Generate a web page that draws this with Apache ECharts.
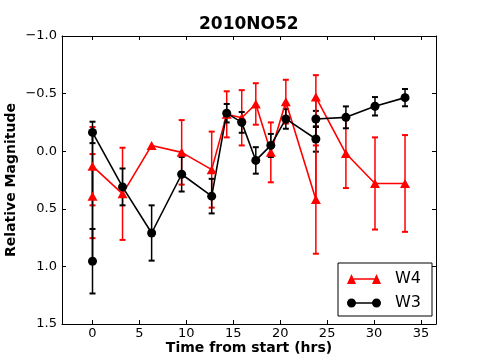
<!DOCTYPE html>
<html>
<head>
<meta charset="utf-8">
<script src="https://cdn.jsdelivr.net/npm/echarts@6/dist/echarts.min.js"></script>
<style>
  html, body { margin: 0; padding: 0; background: #fff; }
  #chart { width: 485px; height: 360px; }
</style>
</head>
<body>
<div id="chart"></div>
<script>
  // time from start (hrs)
  var w4X = [0, 0, 3.2, 6.3, 9.5, 12.7, 14.3, 15.9, 17.4, 19.0, 20.6, 23.8, 23.8, 27.0, 30.1, 33.3]
  var w4Y = [0.39, 0.13, 0.37, -0.05, 0.01, 0.16, -0.32, -0.29, -0.41, 0.01, -0.43, 0.42, -0.47, 0.02, 0.28, 0.28]
  var w4Err = [0.365, 0.34, 0.40, 0, 0.28, 0.33, 0.20, 0.24, 0.18, 0.26, 0.19, 0.47, 0.19, 0.30, 0.40, 0.42]

  var w3X = [0, 0, 3.2, 6.3, 9.5, 12.7, 14.3, 15.9, 17.4, 19.0, 20.6, 23.8, 23.8, 27.0, 30.1, 33.3]
  var w3Y = [0.955, -0.163, 0.31, 0.71, 0.20, 0.39, -0.33, -0.25, 0.08, -0.05, -0.28, -0.106, -0.28, -0.294, -0.39, -0.465]
  var w3Err = [0.28, 0.093, 0.16, 0.24, 0.15, 0.15, 0.08, 0.09, 0.115, 0.10, 0.085, 0.11, 0.07, 0.095, 0.08, 0.075]

  var xTicks = [0, 5, 10, 15, 20, 25, 30, 35]

  var FONT = 'DejaVu Sans'

  function pairs(xs, ys, es) {
    return xs.map(function (x, i) {
      return es ? [x, ys[i], es[i]] : [x, ys[i]]
    })
  }

  function errRender(color) {
    return function (params, api) {
      var x = api.value(0)
      var y = api.value(1)
      var e = api.value(2)
      if (!e) return { type: 'group', children: [] }
      var top = api.coord([x, y - e])
      var bot = api.coord([x, y + e])
      var cap = 3
      var st = { stroke: color, lineWidth: 1.5 }
      var capSt = { stroke: color, lineWidth: 2 }
      return {
        type: 'group',
        children: [
          { type: 'line', shape: { x1: top[0], y1: top[1], x2: bot[0], y2: bot[1] }, style: st },
          { type: 'line', shape: { x1: top[0] - cap, y1: top[1], x2: top[0] + cap, y2: top[1] }, style: capSt },
          { type: 'line', shape: { x1: bot[0] - cap, y1: bot[1], x2: bot[0] + cap, y2: bot[1] }, style: capSt }
        ]
      }
    }
  }

  // legend icons: two markers joined by a line
  var triIcon = 'path://M0,10 L4.5,0 L9,10 Z M25,10 L29.5,0 L34,10 Z M6.5,4.25 L27.5,4.25 L27.5,5.75 L6.5,5.75 Z'
  var dotIcon = 'path://M0,5 A4.5,4.5 0 1,1 9,5 A4.5,4.5 0 1,1 0,5 Z M25,5 A4.5,4.5 0 1,1 34,5 A4.5,4.5 0 1,1 25,5 Z M8.8,4.25 L25.2,4.25 L25.2,5.75 L8.8,5.75 Z'

  var axisLine = { show: true, onZero: false, lineStyle: { color: '#000', width: 1 } }
  var tickStyle = { show: true, inside: true, length: 4, lineStyle: { color: '#000', width: 1 } }

  var chart = echarts.init(document.getElementById('chart'))
  chart.setOption({
    animation: false,
    title: {
      text: '2010NO52',
      left: 199,
      top: 16,
      padding: 0,
      textStyle: { fontFamily: FONT, fontSize: 17, fontWeight: 'bold', color: '#000' }
    },
    grid: { left: 62, right: 49, top: 36, bottom: 36, containLabel: false, outerBoundsMode: 'none' },
    legend: {
      orient: 'vertical',
      left: 338,
      top: 263,
      padding: [8, 11, 5, 9],
      itemGap: 8,
      itemWidth: 34,
      itemHeight: 10,
      borderColor: '#000',
      borderWidth: 1,
      borderRadius: 0,
      backgroundColor: '#fff',
      itemStyle: { borderWidth: 0 },
      textStyle: { fontFamily: FONT, fontSize: 16, color: '#000', lineHeight: 16, padding: [0, 0, 0, 9] },
      data: [
        { name: 'W4', icon: triIcon },
        { name: 'W3', icon: dotIcon }
      ]
    },
    xAxis: [
      {
        type: 'value',
        min: -3.25,
        max: 36.6,
        position: 'bottom',
        axisLine: axisLine,
        axisTick: Object.assign({ customValues: xTicks }, tickStyle),
        axisLabel: { customValues: xTicks, color: '#000', fontFamily: FONT, fontSize: 13, margin: 3 },
        splitLine: { show: false },
        name: 'Time from start (hrs)',
        nameLocation: 'middle',
        nameGap: 17,
        nameMoveOverlap: false,
        nameTextStyle: { fontFamily: FONT, fontSize: 14, fontWeight: 'bold', color: '#000' }
      },
      {
        type: 'value',
        min: -3.25,
        max: 36.6,
        position: 'top',
        axisLine: axisLine,
        axisTick: Object.assign({ customValues: xTicks }, tickStyle),
        axisLabel: { show: false },
        splitLine: { show: false }
      }
    ],
    yAxis: [
      {
        type: 'value',
        inverse: true,
        min: -1,
        max: 1.5,
        interval: 0.5,
        position: 'left',
        axisLine: axisLine,
        axisTick: tickStyle,
        axisLabel: {
          color: '#000', fontFamily: FONT, fontSize: 13, margin: 5,
          showMinLabel: true, showMaxLabel: true,
          formatter: function (v) { return (v < 0 ? '\u2212' : '') + Math.abs(v).toFixed(1) }
        },
        splitLine: { show: false },
        name: 'Relative Magnitude',
        nameLocation: 'middle',
        nameGap: 44,
        nameMoveOverlap: false,
        nameRotate: 90,
        nameTextStyle: { fontFamily: FONT, fontSize: 14, fontWeight: 'bold', color: '#000' }
      },
      {
        type: 'value',
        inverse: true,
        min: -1,
        max: 1.5,
        interval: 0.5,
        position: 'right',
        axisLine: axisLine,
        axisTick: tickStyle,
        axisLabel: { show: false },
        splitLine: { show: false }
      }
    ],
    series: [
      {
        name: 'W4 err',
        type: 'custom',
        renderItem: errRender('#ff0000'),
        encode: { x: 0, y: 1 },
        data: pairs(w4X, w4Y, w4Err)
      },
      {
        name: 'W4',
        type: 'line',
        data: pairs(w4X, w4Y),
        color: '#ff0000',
        symbol: 'triangle',
        symbolSize: [10, 9],
        lineStyle: { color: '#ff0000', width: 1.6 },
        itemStyle: { color: '#ff0000' }
      },
      {
        name: 'W3 err',
        type: 'custom',
        renderItem: errRender('#000000'),
        encode: { x: 0, y: 1 },
        data: pairs(w3X, w3Y, w3Err)
      },
      {
        name: 'W3',
        type: 'line',
        data: pairs(w3X, w3Y),
        color: '#000000',
        symbol: 'circle',
        symbolSize: 9,
        lineStyle: { color: '#000', width: 1.6 },
        itemStyle: { color: '#000' }
      }
    ]
  })
</script>
</body>
</html>
